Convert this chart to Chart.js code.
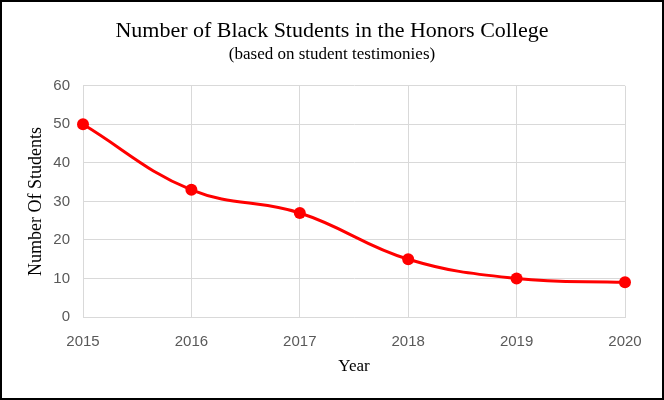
<!DOCTYPE html>
<html>
<head>
<meta charset="utf-8">
<script src="https://cdn.jsdelivr.net/npm/chart.js@4"></script>
<style>
  html, body { margin: 0; padding: 0; background: #fff; }
  .frame {
    width: 664px; height: 400px;
    box-sizing: border-box;
    border: 2px solid #000;
    background: #fff;
  }
  .frame canvas { display: block; }
</style>
</head>
<body>
<div class="frame">
  <canvas id="studentsChart" width="660" height="396"></canvas>
</div>
<script>
// ===========================
// Data
// ===========================
const years = ["2015", "2016", "2017", "2018", "2019", "2020"];
const students = [50, 33, 27, 15, 10, 9];
const yTicks = [0, 10, 20, 30, 40, 50, 60];

const serif = "'Liberation Serif', 'Times New Roman', serif";
const sans = "'Liberation Sans', Arial, sans-serif";

// ===========================
// Chart
// ===========================
const ctx = document.getElementById("studentsChart").getContext("2d");

new Chart(ctx, {
    type: "line",
    data: {
        labels: years,
        datasets: [{
            label: "Number Of Students",
            data: students,
            borderColor: "#ff0000",
            backgroundColor: "#ff0000",
            borderWidth: 3,
            tension: 0.4,
            fill: false,
            pointRadius: 6,
            pointHoverRadius: 6,
            pointBorderWidth: 0
        }]
    },
    options: {
        responsive: false,
        animation: false,
        layout: {
            padding: 0
        },
        scales: {
            x: {
                offset: false,
                grid: { color: "#d9d9d9", drawTicks: false },
                border: { color: "#d9d9d9" },
                ticks: {
                    padding: 16,
                    color: "#595959",
                    font: { family: sans, size: 15 }
                },
                title: {
                    display: true,
                    text: "Year",
                    color: "#000",
                    font: { family: serif, size: 17 },
                    padding: { top: 0, bottom: 21 }
                },
                afterFit: function (scale) { scale.height = 81; }
            },
            y: {
                min: 0,
                max: 60,
                afterBuildTicks: function (scale) {
                    scale.ticks = yTicks.map(function (v) { return { value: v }; });
                },
                grid: { color: "#d9d9d9", drawTicks: false },
                border: { color: "#d9d9d9" },
                ticks: {
                    padding: 13,
                    color: "#595959",
                    font: { family: sans, size: 15 }
                },
                title: {
                    display: true,
                    text: "Number Of Students",
                    color: "#000",
                    font: { family: serif, size: 18 },
                    padding: { top: 23, bottom: 0 }
                },
                afterFit: function (scale) { scale.width = 81; }
            },
            // empty right-hand margin so the titles stay centred on the whole canvas
            yRight: {
                position: "right",
                display: true,
                grid: { display: false },
                border: { display: false },
                ticks: { display: false },
                afterFit: function (scale) { scale.width = 37; }
            }
        },
        plugins: {
            legend: { display: false },
            tooltip: { enabled: false },
            title: {
                display: true,
                text: "Number of Black Students in the Honors College",
                color: "#000",
                font: { family: serif, size: 22, weight: "normal" },
                padding: { top: 16, bottom: 0 }
            },
            subtitle: {
                display: true,
                text: "(based on student testimonies)",
                color: "#000",
                font: { family: serif, size: 17, weight: "normal" },
                padding: { top: 0, bottom: 21 }
            }
        }
    }
});
</script>
</body>
</html>
